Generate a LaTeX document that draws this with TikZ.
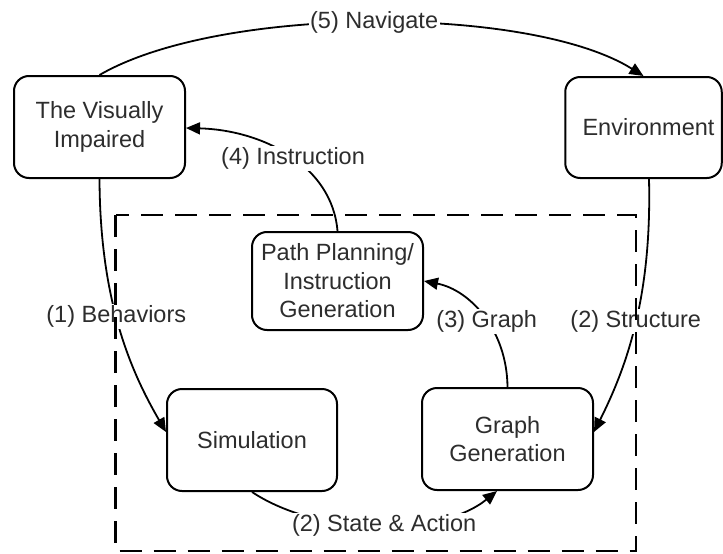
\documentclass[tikz,border=0pt]{standalone}
\usepackage{fontspec}
\setmainfont{Liberation Sans}
\usetikzlibrary{arrows.meta}
\definecolor{txt}{RGB}{45,45,45}
\tikzset{
  box/.style={draw=black, line width=2pt, rounded corners=15pt, fill=white,
    align=center, inner sep=0pt, text=txt,
    font=\fontsize{23.5}{28.5}\selectfont},
  conn/.style={line width=1.8pt, -{Triangle[length=14pt,width=12pt]}},
  lbl/.style={fill=white, inner sep=1.5pt, text=txt,
    font=\fontsize{23.5}{28.5}\selectfont},
  frame/.style={draw=black, line width=2.2pt, dash pattern=on 22pt off 12pt}
}
\begin{document}
\begin{tikzpicture}[x=1pt,y=-1pt]
\useasboundingbox (0,0) rectangle (723,554);
\node[box, minimum width=171pt, minimum height=102pt] (vi) at (99.5,127) {The Visually\\Impaired};
\node[box, minimum width=156.5pt, minimum height=101pt] (env) at (643.5,127.5) {\hspace*{10pt}Environment};
\node[box, minimum width=171pt, minimum height=98pt] (path) at (337.5,281) {Path Planning/\\Instruction\\Generation};
\node[box, minimum width=170pt, minimum height=102pt] (sim) at (252,440) {Simulation};
\node[box, minimum width=171pt, minimum height=102pt] (gg) at (507.5,439) {Graph\\Generation};

\draw[conn] (vi.north) .. controls (220,5) and (530,5) .. (env.north)
  node[lbl, pos=0.5] (l5) {(5) Navigate};
\draw[conn] (path.north) .. controls (332,165) and (262,130) .. ([yshift=-1pt]vi.east)
  node[lbl, pos=0.47] (l4) {(4) Instruction};
\draw[conn] (vi.south) .. controls (100,300) and (130,370) .. ([yshift=8pt]sim.west)
  node[lbl, pos=0.455] (l1) {(1) Behaviors};
\draw[conn] ([xshift=5.5pt]env.south) .. controls (652,300) and (625,370) .. ([yshift=7pt]gg.east)
  node[lbl, pos=0.475] (l2) {(2) Structure};
\draw[conn] (gg.north) .. controls (507,330) and (470,290) .. (path.east)
  node[lbl, pos=0.455] (l3) {(3) Graph};
\draw[conn] (sim.south) .. controls (320,537) and (440,537) .. ([xshift=-10.5pt]gg.south)
  node[lbl, pos=0.52] (l6) {(2) State \& Action};

\draw[frame] (115.5,215) rectangle (636,551);
\end{tikzpicture}
\end{document}
